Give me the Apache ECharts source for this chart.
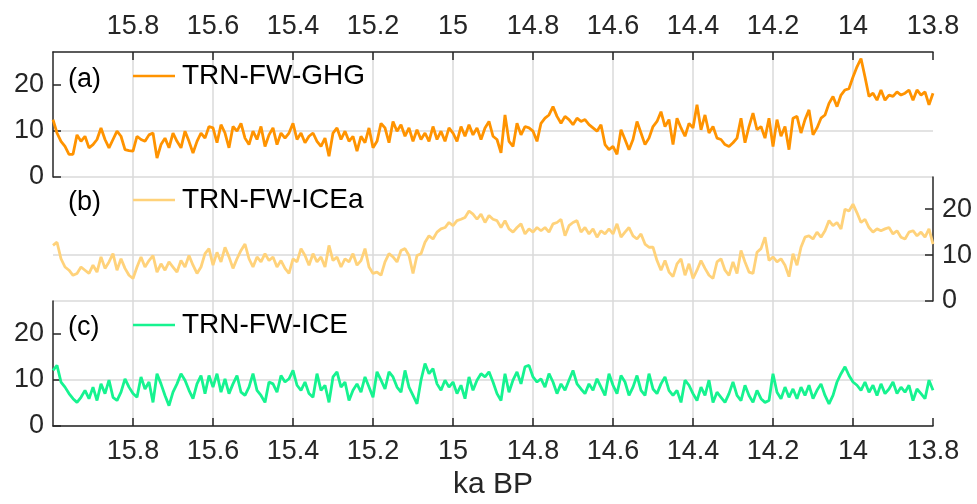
<!DOCTYPE html>
<html>
<head>
<meta charset="utf-8">
<script src="https://cdn.jsdelivr.net/npm/echarts@6/dist/echarts.min.js"></script>
<style>
html,body{margin:0;padding:0;background:#fff;}
#chart{width:977px;height:504px;}
</style>
</head>
<body>
<div id="chart"></div>
<script>
// ---- data ----
const kaStart = 16.0;   // first sample, ka BP
const kaStep = 0.01;    // sample spacing, ka
const kaTicks = [15.8, 15.6, 15.4, 15.2, 15.0, 14.8, 14.6, 14.4, 14.2, 14.0, 13.8];
const yTicks = [0, 10, 20];
const seriesNames = ['TRN-FW-GHG', 'TRN-FW-ICEa', 'TRN-FW-ICE'];
const panelLabels = ['(a)', '(b)', '(c)'];

const ghg = [
 12.4, 9.5, 7.7, 6.6, 4.9, 4.9, 9.1, 7.7, 8.8, 6.3,
 7.0, 8.1, 10.6, 8.1, 6.3, 8.1, 9.9, 8.8, 5.9, 5.7,
 5.6, 8.8, 8.1, 7.7, 9.1, 9.5, 4.1, 7.0, 8.4, 6.3,
 9.5, 7.7, 6.3, 9.9, 7.7, 5.2, 7.7, 9.5, 8.4, 10.9,
 10.6, 7.4, 11.3, 9.5, 6.3, 10.9, 9.9, 11.6, 8.4, 7.0,
 9.9, 8.1, 10.9, 6.6, 9.1, 10.6, 7.0, 9.5, 8.4, 9.5,
 11.6, 8.1, 9.5, 7.4, 8.8, 9.5, 7.7, 6.6, 8.4, 4.5,
 9.5, 10.6, 8.1, 9.9, 7.7, 8.8, 5.6, 8.8, 7.4, 10.6,
 6.3, 7.7, 11.6, 10.6, 7.4, 12.0, 9.9, 11.3, 8.8, 10.6,
 7.7, 10.2, 8.1, 9.5, 7.7, 10.9, 8.1, 9.9, 7.7, 10.6,
 9.5, 7.7, 10.9, 8.8, 11.3, 9.1, 10.6, 8.1, 10.6, 12.0,
 8.8,
 8.1, 5.2, 13.4, 7.7, 6.6, 11.6, 9.1, 10.9, 10.6, 9.9,
 7.7, 11.6, 12.7, 13.4, 15.2, 13.1, 11.6, 13.1, 12.4, 11.3,
 12.7, 12.0, 12.4, 11.3, 10.6, 9.9, 11.3, 7.0, 5.9, 6.6,
 4.9, 10.2, 8.1, 5.9, 8.1, 12.0, 9.5, 7.0, 8.4, 10.9,
 12.0, 14.1, 10.9, 12.4, 7.0, 12.7, 10.6, 8.8, 11.6, 10.6,
 15.6, 10.2, 13.4, 9.5, 10.9, 8.4, 8.1, 7.0, 6.6, 7.4,
 8.4, 12.7, 7.4, 10.9, 13.8, 10.2, 10.9, 8.4, 12.7, 6.6,
 12.4, 8.8, 10.9, 5.9, 12.7, 13.1, 9.5, 12.4, 14.5, 9.1,
 10.6, 12.7, 13.4, 15.9, 17.4, 15.2, 17.7, 18.8, 19.1, 21.6,
 23.8, 25.6, 21.6, 17.4, 18.1, 16.6, 18.8, 16.6, 17.7, 17.4,
 18.4, 17.7, 18.1, 18.8, 16.6, 18.8, 17.7, 18.4, 15.6, 18.1
];

const icea = [
 12.1, 12.8, 9.2, 7.4, 6.7, 5.6, 6.0, 7.4, 6.7, 6.0,
 7.8, 6.3, 9.6, 7.1, 8.5, 10.3, 6.7, 9.2, 7.1, 5.6,
 4.9, 7.4, 9.6, 7.4, 8.8, 9.9, 6.3, 8.1, 6.7, 8.5,
 7.4, 6.3, 8.8, 7.4, 9.9, 7.8, 6.0, 7.4, 10.3, 11.4,
 7.8, 10.6, 8.5, 11.7, 9.6, 7.1, 9.2, 11.0, 12.4, 9.2,
 7.4, 9.6, 8.5, 10.3, 8.8, 9.6, 7.4, 8.8, 7.1, 6.0,
 9.2, 8.5, 11.4, 9.9, 7.8, 10.3, 8.5, 9.6, 7.4, 12.1,
 8.8, 9.6, 7.4, 9.2, 8.5, 10.3, 7.8, 8.8, 11.4, 7.4,
 6.0, 6.3, 5.6, 8.5, 10.3, 9.6, 8.5, 11.0, 11.4, 9.9,
 6.0, 9.9, 10.3, 12.8, 14.2, 13.5, 15.0, 15.7, 16.0, 17.1,
 16.4, 17.5, 17.8, 18.2, 19.6, 18.9, 17.8, 18.9, 17.1, 18.6,
 17.8,
 17.5, 16.0, 17.5, 15.7, 15.0, 16.0, 16.8, 14.6, 15.7, 15.0,
 16.0, 15.3, 16.0, 15.0, 16.8, 17.1, 17.8, 14.2, 16.4, 17.1,
 17.5, 15.0, 16.0, 14.6, 15.7, 13.9, 15.3, 14.6, 15.7, 14.6,
 16.8, 13.9, 15.0, 16.0, 14.2, 13.5, 14.6, 12.4, 11.7, 11.7,
 8.8, 6.7, 8.8, 6.3, 5.3, 8.1, 9.2, 5.6, 8.1, 4.9,
 6.7, 8.8, 7.1, 5.6, 4.9, 8.5, 9.2, 6.7, 5.6, 8.5,
 6.0, 11.0, 8.5, 6.3, 6.0, 10.6, 11.4, 13.9, 8.8, 9.6,
 8.5, 9.2, 7.8, 5.3, 10.3, 7.8, 11.7, 13.9, 14.2, 13.5,
 15.0, 13.9, 15.3, 17.5, 16.4, 17.1, 15.7, 20.0, 19.6, 21.1,
 19.2, 17.1, 17.8, 16.0, 15.0, 15.7, 15.3, 15.7, 16.0, 14.6,
 15.3, 13.9, 13.5, 15.0, 15.3, 14.2, 15.0, 13.9, 15.7, 12.4
];

const ice = [
 12.0, 13.1, 9.5, 8.4, 7.0, 5.9, 5.1, 6.2, 7.7, 5.9,
 8.4, 5.5, 9.1, 7.0, 9.9, 6.2, 5.5, 7.3, 10.2, 8.4,
 7.0, 6.2, 10.6, 8.0, 9.5, 5.1, 11.3, 9.1, 6.6, 4.4,
 7.3, 9.1, 11.3, 9.9, 7.7, 5.9, 9.1, 10.9, 7.0, 10.9,
 8.4, 11.3, 7.3, 10.2, 7.0, 9.1, 10.9, 7.3, 6.6, 8.4,
 11.3, 7.7, 6.6, 5.1, 9.5, 9.1, 7.3, 10.9, 9.5, 10.2,
 12.0, 8.8, 7.7, 9.5, 7.0, 6.2, 11.3, 7.7, 8.8, 5.1,
 10.6, 11.7, 8.4, 9.5, 5.5, 7.7, 9.1, 7.3, 10.6, 8.4,
 6.2, 11.7, 9.9, 8.0, 11.7, 10.6, 8.4, 7.3, 12.0, 8.4,
 6.6, 4.8, 9.9, 13.5, 11.3, 12.4, 9.1, 7.7, 9.9, 8.4,
 9.5, 7.0, 8.8, 5.9, 10.6, 7.7, 9.9, 11.3, 10.6, 11.7,
 9.5,
 7.0, 5.5, 11.3, 7.3, 9.9, 11.7, 9.1, 12.8, 13.1, 10.6,
 9.5, 10.2, 8.4, 11.3, 9.5, 7.0, 9.1, 7.7, 9.9, 12.0,
 9.1, 8.0, 7.0, 9.1, 7.7, 10.2, 8.4, 6.6, 11.3, 8.8,
 7.0, 10.9, 9.5, 6.6, 8.4, 10.9, 7.7, 6.6, 11.3, 8.0,
 7.0, 9.1, 10.6, 7.7, 6.6, 7.7, 5.1, 9.9, 8.8, 7.0,
 5.5, 8.4, 6.6, 9.9, 5.1, 7.3, 6.2, 5.1, 7.0, 9.5,
 6.6, 5.5, 8.8, 6.6, 5.1, 7.7, 5.9, 5.1, 5.5, 11.3,
 7.3, 5.9, 8.4, 6.2, 8.0, 5.9, 8.4, 6.6, 8.8, 5.9,
 7.7, 9.1, 6.6, 4.8, 6.6, 9.5, 11.3, 12.8, 10.9, 9.5,
 8.8, 7.7, 9.5, 7.3, 8.8, 6.6, 9.1, 7.0, 8.0, 9.5,
 7.0, 8.4, 7.3, 8.8, 5.5, 8.0, 7.0, 5.9, 9.9, 7.7
];

// ---- build ----
const seriesValues = [ghg, icea, ice];
const colors = ['#ff9300', '#ffd27a', '#16f390'];
const FONT = "'Liberation Sans', Arial, Helvetica, sans-serif";
const AX = '#262626';
const GRIDC = '#dadada';

function pairs(vals) {
  return vals.map((v, i) => [+(kaStart - i * kaStep).toFixed(2), v]);
}

const grids = [
  {left: 53, width: 880, top: 52, height: 125},
  {left: 53, width: 880, top: 177, height: 124},
  {left: 53, width: 880, top: 301, height: 125}
];

function xAxisFor(i) {
  const showAxis = i !== 1;
  return {
    gridIndex: i, type: 'value', min: 13.8, max: 16.0, interval: 0.2, inverse: true,
    position: i === 0 ? 'top' : 'bottom',
    name: i === 2 ? 'ka BP' : '',
    nameLocation: 'middle', nameGap: 44,
    nameTextStyle: {fontSize: 30, color: AX, fontFamily: FONT},
    axisLine: {show: showAxis, onZero: false, lineStyle: {color: AX, width: 1.5}},
    axisTick: {show: showAxis, inside: true, length: 8, customValues: kaTicks, lineStyle: {color: AX, width: 1.5}},
    axisLabel: {show: showAxis, customValues: kaTicks, fontSize: 27, color: AX, fontFamily: FONT, margin: 12},
    splitLine: {show: true, showMaxLine: false, lineStyle: {color: GRIDC, width: 1.5}}
  };
}

function yAxisFor(i) {
  return {
    gridIndex: i, type: 'value', min: 0, max: 27, interval: 10,
    position: i === 1 ? 'right' : 'left',
    axisLine: {show: true, onZero: false, lineStyle: {color: AX, width: 1.5}},
    axisTick: {show: true, inside: true, length: 8, customValues: yTicks, lineStyle: {color: AX, width: 1.5}},
    axisLabel: {show: true, customValues: yTicks, fontSize: 27, color: AX, fontFamily: FONT, margin: 9},
    splitLine: {show: true, showMaxLine: false, lineStyle: {color: GRIDC, width: 1.5}}
  };
}

const legendTops = [62, 186, 311];
const labelTops = [66, 189, 314];

const option = {
  animation: false,
  backgroundColor: '#fff',
  grid: grids,
  xAxis: [0, 1, 2].map(xAxisFor),
  yAxis: [0, 1, 2].map(yAxisFor),
  title: panelLabels.map((t, i) => ({
    text: t, left: 68, top: labelTops[i], padding: 0,
    textStyle: {fontSize: 27, fontWeight: 'normal', color: '#000', fontFamily: FONT}
  })),
  legend: seriesNames.map((n, i) => ({
    data: [n], left: 133, top: legendTops[i], padding: 0,
    icon: 'rect', itemWidth: 42, itemHeight: 2.5,
    textStyle: {fontSize: 28, color: '#000', fontFamily: FONT, padding: [0, 0, 0, 2]}
  })),
  series: seriesNames.map((n, i) => ({
    name: n, type: 'line', xAxisIndex: i, yAxisIndex: i,
    data: pairs(seriesValues[i]),
    symbol: 'none', showSymbol: false,
    lineStyle: {color: colors[i], width: 2.8},
    itemStyle: {color: colors[i]}
  }))
};

const chart = echarts.init(document.getElementById('chart'), null, {renderer: 'canvas'});
chart.setOption(option);
</script>
</body>
</html>
